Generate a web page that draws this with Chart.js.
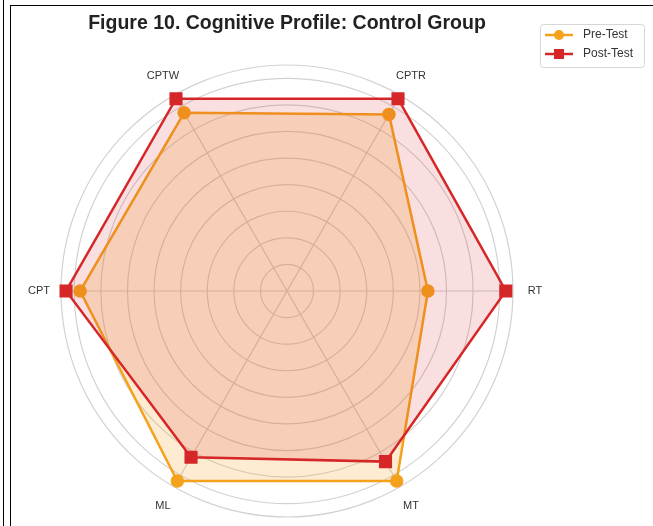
<!DOCTYPE html>
<html>
<head>
<meta charset="utf-8">
<script src="https://cdn.jsdelivr.net/npm/chart.js@4.4.1/dist/chart.umd.min.js"></script>
<style>
  html, body { margin: 0; padding: 0; background: #fff; }
  #wrap { position: relative; width: 653px; height: 526px; overflow: hidden; }
  #chart { position: absolute; left: 0; top: 0; }
  .edge { position: absolute; background: #000; }
</style>
</head>
<body>
<div id="wrap">
  <canvas id="chart" width="653" height="526"></canvas>
  <div class="edge" style="left:3px;top:0;width:1px;height:526px"></div>
  <div class="edge" style="left:10px;top:5px;width:1px;height:521px"></div>
  <div class="edge" style="left:10px;top:5px;width:643px;height:1px"></div>
</div>
<script>
// axes go clockwise from the upper right
const labels = ["CPTR", "RT", "MT", "ML", "CPT", "CPTW"];
const preTest = [7.67, 5.3, 8.25, 8.25, 7.78, 7.74];
const postTest = [8.35, 8.23, 7.41, 7.22, 8.31, 8.35];
const seriesNames = ["Pre-Test", "Post-Test"];
const rMax = 8.5;

const preColor = "#f4a11c";
const postColor = "#d62728";

// labels centred outside the outer ring, like matplotlib
const pointLabelPlugin = {
  id: "pointLabelText",
  afterDraw(chart) {
    const scale = chart.scales.r;
    const ctx = chart.ctx;
    ctx.save();
    ctx.font = "11px 'Liberation Sans', Arial, sans-serif";
    ctx.fillStyle = "#333";
    ctx.textAlign = "center";
    ctx.textBaseline = "middle";
    labels.forEach((lab, i) => {
      const p = scale.getPointPosition(i, scale.drawingArea + 22);
      ctx.fillText(lab, p.x, p.y);
    });
    ctx.restore();
  }
};

// boxed legend with line + marker, top right
const legendBoxPlugin = {
  id: "legendBox",
  afterDraw(chart) {
    const ctx = chart.ctx;
    const x0 = 540, y0 = 24, w = 104, h = 43;
    ctx.save();
    ctx.fillStyle = "rgba(255,255,255,0.9)";
    ctx.strokeStyle = "#d6d6d6";
    ctx.lineWidth = 1;
    ctx.beginPath();
    ctx.roundRect(x0 + 0.5, y0 + 0.5, w, h, 3);
    ctx.fill();
    ctx.stroke();
    ctx.font = "12px 'Liberation Sans', Arial, sans-serif";
    ctx.textBaseline = "middle";
    chart.data.datasets.forEach((ds, k) => {
      const y = y0 + 11 + k * 19;
      ctx.strokeStyle = ds.borderColor;
      ctx.lineWidth = 2.5;
      ctx.beginPath();
      ctx.moveTo(545, y);
      ctx.lineTo(573, y);
      ctx.stroke();
      ctx.fillStyle = ds.borderColor;
      if (ds.pointStyle === "rect") {
        ctx.fillRect(559 - 5, y - 5, 10, 10);
      } else {
        ctx.beginPath();
        ctx.arc(559, y, 5, 0, Math.PI * 2);
        ctx.fill();
      }
      ctx.fillStyle = "#333";
      ctx.fillText(ds.label, 583, y);
    });
    ctx.restore();
  }
};

new Chart(document.getElementById("chart"), {
  type: "radar",
  data: {
    labels: labels,
    datasets: [
      {
        label: seriesNames[0],
        data: preTest,
        borderColor: preColor,
        backgroundColor: "rgba(244,161,28,0.2)",
        borderWidth: 2.5,
        pointStyle: "circle",
        pointRadius: 5.5,
        pointBackgroundColor: preColor,
        pointBorderColor: preColor,
        fill: true,
        order: 1
      },
      {
        label: seriesNames[1],
        data: postTest,
        borderColor: postColor,
        backgroundColor: "rgba(214,39,40,0.15)",
        borderWidth: 2.5,
        pointStyle: "rect",
        pointRadius: 7.5,
        pointBackgroundColor: postColor,
        pointBorderColor: postColor,
        fill: true,
        order: 0
      }
    ]
  },
  options: {
    responsive: false,
    animation: false,
    devicePixelRatio: 1,
    layout: { padding: { left: 61, right: 140, top: 0, bottom: 9 } },
    elements: { line: { tension: 0 } },
    scales: {
      r: {
        min: 0,
        max: rMax,
        startAngle: 30,
        ticks: { display: false, stepSize: 1 },
        grid: { circular: true, color: "#d2d2d2", lineWidth: 1.2 },
        angleLines: { color: "#cfcfcf", lineWidth: 1.2 },
        pointLabels: { display: false }
      }
    },
    plugins: {
      legend: { display: false },
      tooltip: { enabled: false },
      title: {
        display: true,
        text: "Figure 10. Cognitive Profile: Control Group",
        color: "#222",
        font: { family: "'Liberation Sans', Arial, sans-serif", size: 19.5, weight: "bold" },
        padding: { top: 12, bottom: 29.6 }
      }
    }
  },
  plugins: [pointLabelPlugin, legendBoxPlugin]
});
</script>
</body>
</html>
